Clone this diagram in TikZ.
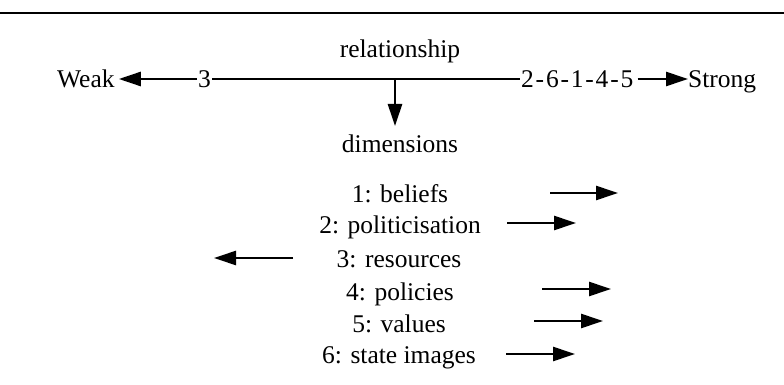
\documentclass[tikz,border=0pt]{standalone}
\usepackage{fontspec}
\setmainfont{Liberation Serif}
\usetikzlibrary{arrows.meta}
\begin{document}
\begin{tikzpicture}[x=1pt,y=-1pt,
  lbl/.style={inner sep=0pt,anchor=base,font=\fontsize{25.5}{28}\selectfont},
  conn/.style={line width=2.6pt},
  arr/.style={conn,-{Triangle[length=22pt,width=14pt]}}]
\useasboundingbox (0,0) rectangle (784,385);
\fill[white] (0,0) rectangle (784,385);
\coordinate (rl) at (0,13);
\coordinate (rr) at (784,13);
\draw[line width=2pt] (rl) -- (rr);
% top line
\node[lbl] (rel) at (400,58) {relationship};
\node[lbl,anchor=base west] (weak) at (57,88) {Weak};
\node[lbl,anchor=base west] (three) at (198,88) {3};
\node[lbl,anchor=base west] (seq) at (521,88) {2\kern1.8pt-\kern1.8pt6\kern1.8pt-\kern1.8pt1\kern1.8pt-\kern1.8pt4\kern1.8pt-\kern1.8pt5};
\node[lbl,anchor=base west] (strong) at (688,88) {Strong};
\draw[arr] ([yshift=9pt,xshift=-1pt]three.base west) -- ([yshift=9pt,xshift=4pt]weak.base east);
\draw[conn] ([yshift=9pt,xshift=1pt]three.base east) -- ([yshift=9pt,xshift=-1pt]seq.base west);
\draw[arr] ([yshift=9pt,xshift=4pt]seq.base east) -- ([yshift=9pt]strong.base west);
\coordinate (split) at (395,79);
\node[lbl] (dim) at (400,153) {dimensions};
\coordinate (dimtop) at (395,126);
\draw[arr] (split) -- (dimtop);
% list
\node[lbl] (d1) at (400,202) {1: beliefs};
\node[lbl] (d2) at (400,233) {2: politicisation};
\node[lbl] (d3) at (399,267) {3: resources};
\node[lbl] (d4) at (400,300) {4: policies};
\node[lbl] (d5) at (399,332) {5: values};
\node[lbl] (d6) at (399,363) {6: state images};
\coordinate (a1s) at (550,193); \coordinate (a1e) at (618,193);
\coordinate (a2s) at (507,223); \coordinate (a2e) at (576,223);
\coordinate (a3s) at (293,258); \coordinate (a3e) at (214,258);
\coordinate (a4s) at (542,289); \coordinate (a4e) at (611,289);
\coordinate (a5s) at (534,321); \coordinate (a5e) at (603,321);
\coordinate (a6s) at (506,354); \coordinate (a6e) at (575,354);
\foreach \i in {1,...,6} {\draw[arr] (a\i s) -- (a\i e);}
\end{tikzpicture}
\end{document}
